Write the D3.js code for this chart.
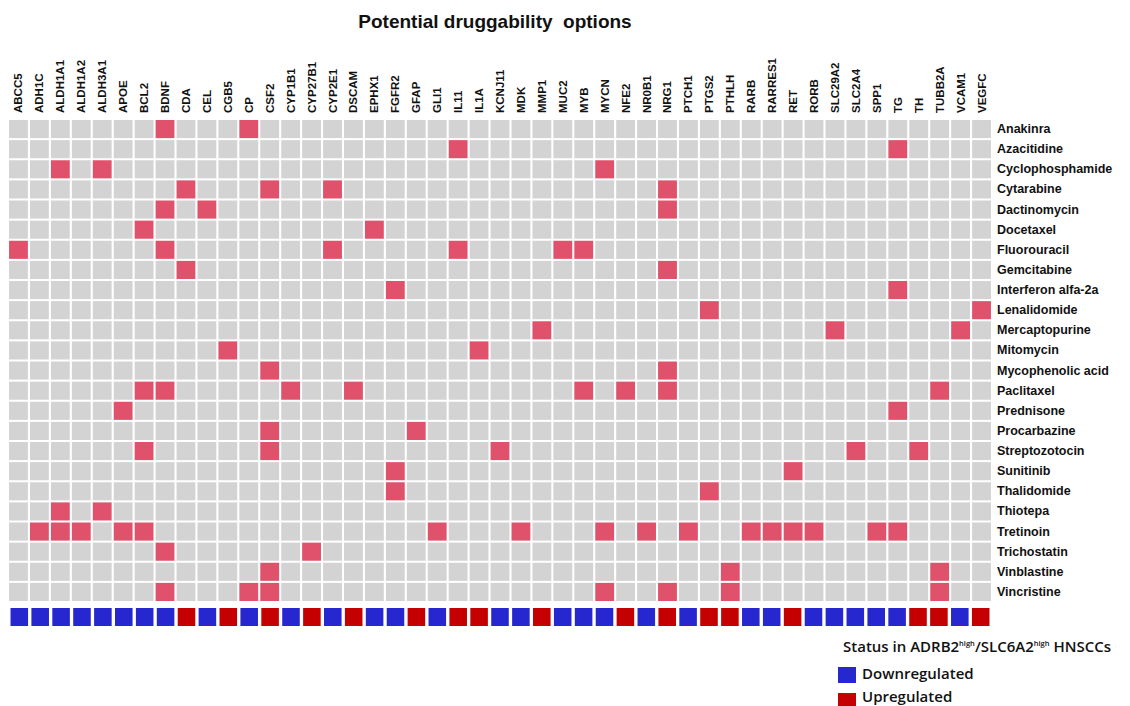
<!DOCTYPE html>
<html>
<head>
<meta charset="utf-8">
<script src="https://cdn.jsdelivr.net/npm/d3@7"></script>
<style>
  body { margin: 0; background: #fff; }
  svg { display: block; }
</style>
</head>
<body>
<div id="container"></div>
<script>
let w = 1130;
let h = 706;

// gene columns
let genes = ["ABCC5","ADH1C","ALDH1A1","ALDH1A2","ALDH3A1","APOE","BCL2","BDNF","CDA","CEL",
  "CGB5","CP","CSF2","CYP1B1","CYP27B1","CYP2E1","DSCAM","EPHX1","FGFR2","GFAP",
  "GLI1","IL11","IL1A","KCNJ11","MDK","MMP1","MUC2","MYB","MYCN","NFE2",
  "NR0B1","NRG1","PTCH1","PTGS2","PTHLH","RARB","RARRES1","RET","RORB","SLC29A2",
  "SLC2A4","SPP1","TG","TH","TUBB2A","VCAM1","VEGFC"];

// status of each gene in ADRB2high/SLC6A2high HNSCCs (D = down, U = up)
let status = ["D","D","D","D","D","D","D","D","U","D",
  "U","D","U","D","U","D","U","D","D","U",
  "D","U","U","D","D","U","D","D","D","U",
  "D","U","D","U","U","D","D","U","D","D",
  "D","D","D","U","U","D","U"];

// drug rows
let drugs = ["Anakinra","Azacitidine","Cyclophosphamide","Cytarabine","Dactinomycin","Docetaxel",
  "Fluorouracil","Gemcitabine","Interferon alfa-2a","Lenalidomide","Mercaptopurine","Mitomycin",
  "Mycophenolic acid","Paclitaxel","Prednisone","Procarbazine","Streptozotocin","Sunitinib",
  "Thalidomide","Thiotepa","Tretinoin","Trichostatin","Vinblastine","Vincristine"];

// targeted genes per drug (same order as drugs)
let drugTargets = [
  ["BDNF","CP"],
  ["IL11","TG"],
  ["ALDH1A1","ALDH3A1","MYCN"],
  ["CDA","CSF2","CYP2E1","NRG1"],
  ["BDNF","CEL","NRG1"],
  ["BCL2","EPHX1"],
  ["ABCC5","BDNF","CYP2E1","IL11","MUC2","MYB"],
  ["CDA","NRG1"],
  ["FGFR2","TG"],
  ["PTGS2","VEGFC"],
  ["MMP1","SLC29A2","VCAM1"],
  ["CGB5","IL1A"],
  ["CSF2","NRG1"],
  ["BCL2","BDNF","CYP1B1","DSCAM","MYB","NFE2","NRG1","TUBB2A"],
  ["APOE","TG"],
  ["CSF2","GFAP"],
  ["BCL2","CSF2","KCNJ11","SLC2A4","TH"],
  ["FGFR2","RET"],
  ["FGFR2","PTGS2"],
  ["ALDH1A1","ALDH3A1"],
  ["ADH1C","ALDH1A1","ALDH1A2","APOE","BCL2","GLI1","MDK","MYCN","NR0B1","PTCH1","RARB","RARRES1","RET","RORB","SPP1","TG"],
  ["BDNF","CYP27B1"],
  ["CSF2","PTHLH","TUBB2A"],
  ["BDNF","CP","CSF2","MYCN","NRG1","PTHLH","TUBB2A"]
];

let labelFont = "'Liberation Sans', Arial, sans-serif";

let viz = d3.select("#container")
  .append("svg")
    .attr("width", w)
    .attr("height", h)
    .style("background-color", "#ffffff")
;

let xScale = d3.scaleBand()
  .domain(genes)
  .range([8, 992])
  .paddingInner(0.1)
  .paddingOuter(0.05)
;

let yScale = d3.scaleBand()
  .domain(drugs)
  .range([119, 602])
  .paddingInner(0.1)
  .paddingOuter(0.05)
;

let colorCell = d3.scaleOrdinal().domain([0, 1]).range(["#d3d3d3", "#e0526b"]);
let colorStatus = d3.scaleOrdinal().domain(["D", "U"]).range(["#2727d0", "#c40000"]);

// build the grid cells
let cells = [];
drugs.forEach(function(drug, i){
  genes.forEach(function(gene){
    cells.push({drug: drug, gene: gene, hit: drugTargets[i].indexOf(gene) >= 0 ? 1 : 0});
  });
});

viz.append("g").selectAll("rect").data(cells).enter()
  .append("rect")
    .attr("x", d => xScale(d.gene))
    .attr("y", d => yScale(d.drug))
    .attr("width", xScale.bandwidth())
    .attr("height", yScale.bandwidth())
    .attr("fill", d => colorCell(d.hit))
;

// status bar
let statusX = xScale.copy().paddingInner(0.16).paddingOuter(0.12);
viz.append("g").selectAll("rect").data(genes).enter()
  .append("rect")
    .attr("x", d => statusX(d))
    .attr("y", 608)
    .attr("width", statusX.bandwidth())
    .attr("height", 18)
    .attr("fill", (d, i) => colorStatus(status[i]))
;

// column labels
viz.append("g").selectAll("text").data(genes).enter()
  .append("text")
    .attr("transform", d => "translate(" + (xScale(d) + xScale.bandwidth() / 2 + 4) + ",113) rotate(-90)")
    .attr("font-family", labelFont)
    .attr("font-weight", "bold")
    .attr("font-size", 11.5)
    .attr("fill", "#111")
    .text(d => d)
;

// row labels
viz.append("g").selectAll("text").data(drugs).enter()
  .append("text")
    .attr("x", 997)
    .attr("y", d => yScale(d) + yScale.bandwidth() / 2 + 4)
    .attr("font-family", labelFont)
    .attr("font-weight", "bold")
    .attr("font-size", 12.5)
    .attr("fill", "#111")
    .text(d => d)
;

// title
viz.append("text")
  .attr("x", 495)
  .attr("y", 28)
  .attr("text-anchor", "middle")
  .attr("font-family", labelFont)
  .attr("font-weight", "bold")
  .attr("font-size", 19)
  .attr("fill", "#111")
  .style("white-space", "pre")
  .text("Potential druggability  options")
;

// legend
let legend = viz.append("g")
  .attr("font-family", "'Open Sans', sans-serif")
  .attr("font-weight", 600)
  .attr("fill", "#111")
;

let legendTitle = legend.append("text")
  .attr("x", 843)
  .attr("y", 652)
  .attr("font-size", 15);
legendTitle.append("tspan").text("Status in ADRB2");
legendTitle.append("tspan").attr("font-size", 7.5).attr("dy", -6).text("high");
legendTitle.append("tspan").attr("dy", 6).text("/SLC6A2");
legendTitle.append("tspan").attr("font-size", 7.5).attr("dy", -6).text("high");
legendTitle.append("tspan").attr("dy", 6).text(" HNSCCs");

let legendItems = [["D", "Downregulated"], ["U", "Upregulated"]];
legend.selectAll("rect").data(legendItems).enter()
  .append("rect")
    .attr("x", 838)
    .attr("y", (d, i) => 667 + i * 26)
    .attr("width", 18)
    .attr("height", 16)
    .attr("fill", d => colorStatus(d[0]))
;
legend.selectAll(".lab").data(legendItems).enter()
  .append("text")
    .attr("class", "lab")
    .attr("x", 862)
    .attr("y", (d, i) => 679 + i * 23)
    .attr("font-size", 15)
    .text(d => d[1])
;
</script>
</body>
</html>
